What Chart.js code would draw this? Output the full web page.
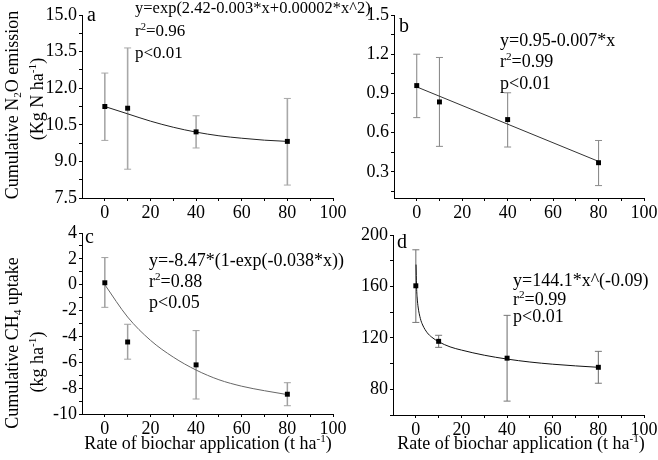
<!DOCTYPE html>
<html>
<head>
<meta charset="utf-8">
<script src="https://cdn.jsdelivr.net/npm/chart.js@4.4.0/dist/chart.umd.min.js"></script>
<style>
  html, body { margin: 0; padding: 0; background: #fff; }
  #wrap { position: relative; width: 658px; height: 460px; overflow: hidden; font-family: 'Liberation Serif', 'Times New Roman', serif; color: #000; }
  canvas { position: absolute; left: 0; top: 0; }
  .txt { position: absolute; white-space: nowrap; font-size: 18px; line-height: 22px; }
  .letter { font-size: 20px; line-height: 24px; }
  .ytitle { transform: translate(-50%, -50%) rotate(-90deg); }
  .xtitle { transform: translateX(-50%); }
  sub, sup { font-size: 0.62em; line-height: 0; }
  sub { vertical-align: -0.28em; }
  sup { vertical-align: 0.6em; }
</style>
</head>
<body>
<div id="wrap">
  <canvas id="chartA" width="658" height="460"></canvas>
  <canvas id="chartB" width="658" height="460"></canvas>
  <canvas id="chartC" width="658" height="460"></canvas>
  <canvas id="chartD" width="658" height="460"></canvas>

  <!-- panel letters -->
  <div class="txt letter" style="left:87px; top:2px;">a</div>
  <div class="txt letter" style="left:399px; top:13px;">b</div>
  <div class="txt letter" style="left:85px; top:224px;">c</div>
  <div class="txt letter" style="left:397px; top:229px;">d</div>

  <!-- fit equations -->
  <div class="txt" style="left:135px; top:-3px; font-size:16.5px;">y=exp(2.42-0.003*x+0.00002*x^2)</div>
  <div class="txt" style="left:135px; top:20px; font-size:17px;">r<sup>2</sup>=0.96</div>
  <div class="txt" style="left:135px; top:42px; font-size:17px;">p&lt;0.01</div>

  <div class="txt" style="left:500px; top:29px;">y=0.95-0.007*x</div>
  <div class="txt" style="left:500px; top:50px;">r<sup>2</sup>=0.99</div>
  <div class="txt" style="left:500px; top:72px;">p&lt;0.01</div>

  <div class="txt" style="left:149px; top:249px;">y=-8.47*(1-exp(-0.038*x))</div>
  <div class="txt" style="left:149px; top:270px;">r<sup>2</sup>=0.88</div>
  <div class="txt" style="left:149px; top:291px;">p&lt;0.05</div>

  <div class="txt" style="left:513px; top:269px;">y=144.1*x^(-0.09)</div>
  <div class="txt" style="left:513px; top:288px;">r<sup>2</sup>=0.99</div>
  <div class="txt" style="left:513px; top:305px;">p&lt;0.01</div>

  <!-- axis titles -->
  <div class="txt ytitle" style="left:12px; top:105px;">Cumulative N<sub>2</sub>O emission</div>
  <div class="txt ytitle" style="left:37px; top:99px;">(Kg N ha<sup>-1</sup>)</div>
  <div class="txt ytitle" style="left:12px; top:343px;">Cumulative CH<sub>4</sub> uptake</div>
  <div class="txt ytitle" style="left:37px; top:362px;">(kg ha<sup>-1</sup>)</div>
  <div class="txt xtitle" style="left:208px; top:432px;">Rate of biochar application (t ha<sup>-1</sup>)</div>
  <div class="txt xtitle" style="left:521px; top:432px;">Rate of biochar application (t ha<sup>-1</sup>)</div>
</div>

<script>
// Biochar rate panels: N2O emission (a, b) and CH4 uptake (c, d)

// shared x axis
const rates = [0, 10, 40, 80];
const xMajor = [0, 20, 40, 60, 80, 100];
const xMinor = [10, 30, 50, 70, 90];

// panel a
const aMean = [11.25, 11.18, 10.21, 9.82];
const aHigh = [12.62, 13.65, 10.87, 11.58];
const aLow = [9.86, 8.68, 9.55, 8.03];
const aFitX = [0, 10, 20, 30, 40, 50, 60, 70, 80];
const aFitY = [11.25, 10.95, 10.65, 10.40, 10.20, 10.05, 9.95, 9.87, 9.82];
const aMajor = [7.5, 9.0, 10.5, 12.0, 13.5, 15.0];
const aMinor = [8.25, 9.75, 11.25, 12.75, 14.25];

// panel b
const bMean = [0.96, 0.835, 0.70, 0.37];
const bHigh = [1.20, 1.175, 0.905, 0.54];
const bLow = [0.715, 0.495, 0.49, 0.195];
const bFitX = [0, 80];
const bFitY = [0.95, 0.38];
const bMajor = [0.3, 0.6, 0.9, 1.2, 1.5];
const bMinor = [0.15, 0.45, 0.75, 1.05, 1.35];

// panel c
const cMean = [0.15, -4.43, -6.2, -8.47];
const cHigh = [2.1, -3.06, -3.55, -7.58];
const cLow = [-1.75, -5.76, -8.84, -9.36];
const cFitX = [0, 10, 20, 30, 40, 50, 60, 70, 80];
const cFitY = [0.0, -2.5, -4.3, -5.6, -6.6, -7.35, -7.85, -8.2, -8.5];
const cMajor = [-10, -8, -6, -4, -2, 0, 2, 4];
const cMinor = [-9, -7, -5, -3, -1, 1, 3];

// panel d
const dMean = [160.5, 117.3, 104.2, 97.1];
const dHigh = [188.5, 122, 137.5, 109.5];
const dLow = [132, 112.6, 70.8, 84.7];
const dFitX = [0.1, 0.3, 0.6, 1, 2, 3, 5, 7, 10, 15, 20, 30, 40, 50, 60, 70, 80];
const dFitY = [177, 161, 151, 144, 135, 130, 124, 120.5, 117, 113, 110.5, 106.5, 103.5, 101.2, 99.5, 98.2, 97.1];
const dMajor = [80, 120, 160, 200];
const dMinor = [60, 100, 140, 180];

const FONT = { family: "'Liberation Serif', 'Times New Roman', serif", size: 18 };

// draws vertical error bars with caps, under the markers
const errorBars = {
  id: 'errorBars',
  beforeDatasetsDraw(chart, args, opts) {
    const { ctx, scales } = chart;
    const x = scales.x, y = scales.y;
    ctx.save();
    ctx.strokeStyle = opts.color || '#999';
    opts.xs.forEach((xv, i) => {
      const px = x.getPixelForValue(xv);
      const top = y.getPixelForValue(opts.high[i]);
      const bot = y.getPixelForValue(opts.low[i]);
      ctx.lineWidth = opts.width || 1.3;
      ctx.beginPath();
      ctx.moveTo(px, top);
      ctx.lineTo(px, bot);
      ctx.stroke();
      ctx.lineWidth = 1;
      ctx.beginPath();
      ctx.moveTo(px - 3.5, top);
      ctx.lineTo(px + 3.5, top);
      ctx.moveTo(px - 3.5, bot);
      ctx.lineTo(px + 3.5, bot);
      ctx.stroke();
    });
    ctx.restore();
  }
};

function tickList(major, minor) {
  return major.map(v => ({ value: v, isMajor: true }))
    .concat(minor.map(v => ({ value: v, isMajor: false })))
    .sort((p, q) => p.value - q.value);
}

function axis(min, max, major, minor, fmt, isX) {
  return {
    type: 'linear',
    min: min,
    max: max,
    border: { color: '#000', width: 1 },
    grid: { drawOnChartArea: false, drawTicks: true, tickLength: 3, color: '#000' },
    ticks: {
      autoSkip: false,
      maxRotation: 0,
      padding: isX ? 1 : 2,
      color: '#000',
      font: FONT,
      callback: function(value, index, ticks) {
        return ticks[index].isMajor ? fmt(value) : '';
      }
    },
    afterBuildTicks: function(scale) {
      scale.ticks = tickList(major, minor);
    },
    afterFit: function(scale) {
      if (isX) scale.height = 30; else scale.width = 40;
      scale.paddingLeft = 0;
      scale.paddingRight = 0;
      scale.paddingTop = 0;
      scale.paddingBottom = 0;
    }
  };
}

function createPanel(id, p) {
  const canvas = document.getElementById(id);
  if (!canvas) {
    console.error('canvas not found', id);
    return;
  }
  const pts = rates.map((r, i) => ({ x: r, y: p.mean[i] }));
  const fit = p.fitX.map((v, i) => ({ x: v, y: p.fitY[i] }));
  new Chart(canvas.getContext('2d'), {
    type: 'scatter',
    data: {
      datasets: [
        {
          data: pts,
          pointStyle: 'rect',
          pointRadius: 3.5,
          backgroundColor: '#000',
          borderColor: '#000',
          borderWidth: 0
        },
        {
          data: fit,
          showLine: true,
          pointRadius: 0,
          borderColor: p.lineColor,
          borderWidth: 1,
          cubicInterpolationMode: 'monotone'
        }
      ]
    },
    options: {
      responsive: false,
      animation: false,
      devicePixelRatio: 1,
      layout: {
        padding: {
          left: p.area.left - 40,
          top: p.area.top,
          right: 658 - p.area.right,
          bottom: 460 - p.area.bottom - 30
        }
      },
      scales: {
        x: axis(-10, 100, xMajor, xMinor, v => String(v), true),
        y: axis(p.yMin, p.yMax, p.yMajor, p.yMinor, p.fmt, false)
      },
      plugins: {
        legend: { display: false },
        tooltip: { enabled: false },
        errorBars: { xs: rates, high: p.high, low: p.low, color: p.errColor, width: p.errWidth }
      }
    },
    plugins: [errorBars]
  });
}

createPanel('chartA', {
  mean: aMean, high: aHigh, low: aLow, fitX: aFitX, fitY: aFitY,
  yMin: 7.5, yMax: 15, yMajor: aMajor, yMinor: aMinor, fmt: v => v.toFixed(1),
  area: { left: 82, top: 15, right: 333, bottom: 198 },
  lineColor: '#222', errColor: '#a8a8a8', errWidth: 1.6
});

createPanel('chartB', {
  mean: bMean, high: bHigh, low: bLow, fitX: bFitX, fitY: bFitY,
  yMin: 0.1, yMax: 1.5, yMajor: bMajor, yMinor: bMinor, fmt: v => v.toFixed(1),
  area: { left: 394, top: 15, right: 644, bottom: 198 },
  lineColor: '#333', errColor: '#8c8c8c', errWidth: 1.1
});

createPanel('chartC', {
  mean: cMean, high: cHigh, low: cLow, fitX: cFitX, fitY: cFitY,
  yMin: -10, yMax: 4, yMajor: cMajor, yMinor: cMinor, fmt: v => String(v),
  area: { left: 82, top: 233, right: 333, bottom: 414 },
  lineColor: '#666', errColor: '#a0a0a0', errWidth: 1.5
});

createPanel('chartD', {
  mean: dMean, high: dHigh, low: dLow, fitX: dFitX, fitY: dFitY,
  yMin: 60, yMax: 200, yMajor: dMajor, yMinor: dMinor, fmt: v => String(v),
  area: { left: 393, top: 235, right: 644, bottom: 415 },
  lineColor: '#111', errColor: '#777', errWidth: 1.1
});
</script>
</body>
</html>
